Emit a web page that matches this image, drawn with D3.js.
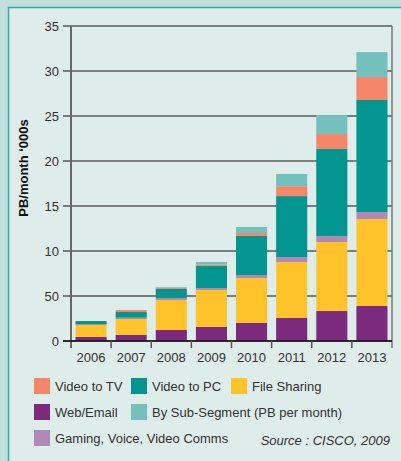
<!DOCTYPE html>
<html>
<head>
<meta charset="UTF-8">
<title>Traffic by sub-segment</title>
<style>
html, body {
    margin: 0;
    padding: 0;
    background-color: #c0dfdd;
}
svg {
    display: block;
    font-family: "Liberation Sans", Arial, sans-serif;
}
.tick-label {
    font-size: 13px;
    fill: #333;
}
.legend-label {
    font-size: 13px;
    fill: #333;
}
</style>
</head>
<body>
<div class="chart"></div>
<script src="https://cdn.jsdelivr.net/npm/d3@7/dist/d3.min.js"></script>
<script>
let years = ['2006', '2007', '2008', '2009', '2010', '2011', '2012', '2013'];

// stacked bottom to top
let webEmail     = [0.45, 0.67, 1.22, 1.56, 2.0, 2.56, 3.33, 3.89];
let fileSharing  = [1.33, 1.77, 3.34, 4.11, 5.0, 6.22, 7.67, 9.67];
let gaming       = [0.11, 0.15, 0.22, 0.22, 0.33, 0.55, 0.67, 0.77];
let videoToPC    = [0.33, 0.63, 1.0, 2.44, 4.34, 6.77, 9.66, 12.45];
let videoToTV    = [0.0, 0.22, 0.15, 0.15, 0.33, 1.1, 1.67, 2.55];
let subSegment   = [0.0, 0.0, 0.07, 0.3, 0.67, 1.36, 2.1, 2.77];

let yTicks = [0, 5, 10, 15, 20, 25, 30, 35];
let yTickLabels = ['0', '50', '10', '15', '20', '25', '30', '35'];

let keys = ['webEmail', 'fileSharing', 'gaming', 'videoToPC', 'videoToTV', 'subSegment'];
let colors = {
    webEmail: '#7b2a7e',
    fileSharing: '#fec22b',
    gaming: '#b089b6',
    videoToPC: '#03958f',
    videoToTV: '#f5866a',
    subSegment: '#74c0bd'
};

let rows = years.map((y, i) => ({
    year: y,
    webEmail: webEmail[i],
    fileSharing: fileSharing[i],
    gaming: gaming[i],
    videoToPC: videoToPC[i],
    videoToTV: videoToTV[i],
    subSegment: subSegment[i]
}));

let width = 401, height = 461;
let plotLeft = 71, plotRight = 392, plotTop = 26, plotBottom = 341;

let svg = d3.select('.chart').append('svg')
    .attr('width', width)
    .attr('height', height);

// panel
svg.append('rect')
    .attr('x', 8.5).attr('y', 7.5)
    .attr('width', width).attr('height', height)
    .attr('fill', '#deecea')
    .attr('stroke', '#3ba9a3')
    .attr('stroke-width', 1.5);

let xScale = d3.scaleBand()
    .domain(years)
    .range([plotLeft, plotRight])
    .paddingInner(0.225)
    .paddingOuter(0.1125);

let yScale = d3.scaleLinear()
    .domain([0, 35])
    .range([plotBottom, plotTop]);

// gridlines
svg.append('g')
    .selectAll('line')
    .data(yTicks)
    .enter().append('line')
    .attr('x1', plotLeft - 8)
    .attr('x2', plotRight)
    .attr('y1', d => yScale(d))
    .attr('y2', d => yScale(d))
    .attr('stroke', '#111')
    .attr('stroke-width', 1.2);

// y tick labels
svg.append('g')
    .selectAll('text')
    .data(yTicks)
    .enter().append('text')
    .attr('class', 'tick-label')
    .attr('x', plotLeft - 12)
    .attr('y', d => yScale(d))
    .attr('dy', '0.35em')
    .attr('text-anchor', 'end')
    .text((d, i) => yTickLabels[i]);

// stacked bars
let stack = d3.stack().keys(keys);
let series = stack(rows);

svg.append('g')
    .selectAll('g')
    .data(series)
    .enter().append('g')
    .attr('fill', d => colors[d.key])
    .selectAll('rect')
    .data(d => d)
    .enter().append('rect')
    .attr('x', d => xScale(d.data.year))
    .attr('width', xScale.bandwidth())
    .attr('y', d => yScale(d[1]))
    .attr('height', d => yScale(d[0]) - yScale(d[1]));

// axes lines
svg.append('line')
    .attr('x1', plotLeft).attr('x2', plotLeft)
    .attr('y1', plotTop).attr('y2', plotBottom + 7)
    .attr('stroke', '#666').attr('stroke-width', 2);

svg.append('line')
    .attr('x1', plotRight).attr('x2', plotRight)
    .attr('y1', plotTop).attr('y2', plotBottom + 7)
    .attr('stroke', '#777').attr('stroke-width', 1.5);

svg.append('line')
    .attr('x1', plotLeft - 8).attr('x2', plotRight)
    .attr('y1', plotBottom).attr('y2', plotBottom)
    .attr('stroke', '#111').attr('stroke-width', 1.5);

// x tick marks between years
let step = xScale.step();
svg.append('g')
    .selectAll('line')
    .data(years.slice(0, -1))
    .enter().append('line')
    .attr('x1', d => xScale(d) + xScale.bandwidth() + step * 0.1125)
    .attr('x2', d => xScale(d) + xScale.bandwidth() + step * 0.1125)
    .attr('y1', plotBottom)
    .attr('y2', plotBottom + 7)
    .attr('stroke', '#555')
    .attr('stroke-width', 1.5);

// x labels
svg.append('g')
    .selectAll('text')
    .data(years)
    .enter().append('text')
    .attr('class', 'tick-label')
    .attr('x', d => xScale(d) + xScale.bandwidth() / 2)
    .attr('y', plotBottom + 16)
    .attr('dy', '0.35em')
    .attr('text-anchor', 'middle')
    .text(d => d);

// y title
svg.append('text')
    .attr('transform', 'translate(28,168) rotate(-90)')
    .attr('text-anchor', 'middle')
    .attr('font-size', 13)
    .attr('font-weight', 'bold')
    .attr('fill', '#111')
    .text('PB/month \u2018000s');

// legend
let legendItems = [
    {key: 'videoToTV', label: 'Video to TV', x: 34, y: 378},
    {key: 'videoToPC', label: 'Video to PC', x: 131, y: 378},
    {key: 'fileSharing', label: 'File Sharing', x: 231, y: 378},
    {key: 'webEmail', label: 'Web/Email', x: 34, y: 404},
    {key: 'subSegment', label: 'By Sub-Segment (PB per month)', x: 131, y: 404},
    {key: 'gaming', label: 'Gaming, Voice, Video Comms', x: 34, y: 430}
];

let legend = svg.append('g')
    .selectAll('g')
    .data(legendItems)
    .enter().append('g')
    .attr('transform', d => 'translate(' + d.x + ',' + d.y + ')');

legend.append('rect')
    .attr('width', 16)
    .attr('height', 16)
    .attr('fill', d => colors[d.key]);

legend.append('text')
    .attr('class', 'legend-label')
    .attr('x', 21)
    .attr('y', 8)
    .attr('dy', '0.35em')
    .text(d => d.label);

svg.append('text')
    .attr('x', 390)
    .attr('y', 440)
    .attr('dy', '0.35em')
    .attr('text-anchor', 'end')
    .attr('font-size', 13)
    .attr('font-style', 'italic')
    .attr('fill', '#333')
    .text('Source : CISCO, 2009');
</script>
</body>
</html>
